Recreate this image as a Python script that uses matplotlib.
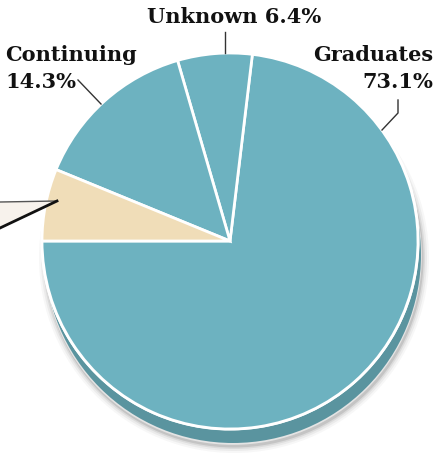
import matplotlib.pyplot as plt
from matplotlib.patches import Circle, Polygon

W, H = 437, 457

labels = ['Graduates', 'Unknown', 'Continuing', 'Other']
values = [73.1, 6.4, 14.3, 6.2]
colors = ['#6db2c0', '#6db2c0', '#6db2c0', '#f0ddb8']

TEAL_DARK = '#5a949f'
FONT = ['DejaVu Serif']


def py(y):
    # pixel row from top -> data y
    return H - y


fig = plt.figure(figsize=(W / 100, H / 100), dpi=100)
ax = fig.add_axes([0, 0, 1, 1])

cx, cy, r = 230, py(241), 188

# soft shadow + extruded side
for k, a in [(7, 0.05), (5, 0.08), (3, 0.12), (1.5, 0.2)]:
    ax.add_patch(Circle((cx + 4, cy - 17), r + k, fc='#6a6a6a', ec='none', alpha=a, zorder=1))
ax.add_patch(Circle((cx + 3, cy - 15), r + 0.8, fc='#e4e4e4', ec='none', zorder=2))
ax.add_patch(Circle((cx + 3, cy - 14), r, fc=TEAL_DARK, ec='none', zorder=3))
ax.add_patch(Circle((cx, cy), r + 1.5, fc='white', ec='none', zorder=4))

wedges, _ = ax.pie(values, colors=colors, startangle=180, counterclock=True,
                   center=(cx, cy), radius=r, frame=True,
                   wedgeprops=dict(edgecolor='white', linewidth=2))
for w in wedges:
    w.set_zorder(5)
ax.set_xlim(0, W)
ax.set_ylim(0, H)
ax.set_aspect('equal')
ax.axis('off')

tkw = dict(family=FONT, fontweight='bold', fontsize=15, color='#111111', zorder=6)
ax.text(234, py(23), f'{labels[1]} {values[1]}%', ha='center', va='baseline', **tkw)
ax.text(5, py(61), labels[2], ha='left', va='baseline', **tkw)
ax.text(5, py(88), f'{values[2]}%', ha='left', va='baseline', **tkw)
ax.text(433, py(61), labels[0], ha='right', va='baseline', **tkw)
ax.text(433, py(88), f'{values[0]}%', ha='right', va='baseline', **tkw)

lkw = dict(color='#333333', lw=1.0, zorder=6)
ax.plot([225, 225], [py(32), py(53)], **lkw)
ax.plot([78, 101], [py(80), py(104)], **lkw)
ax.plot([398, 398, 382], [py(100), py(113), py(130)], **lkw)

# callout for the small beige slice, label sits off the canvas
ax.add_patch(Polygon([(0, py(202)), (57, py(201)), (0, py(228))], closed=True,
                     fc='#f7f2ec', ec='none', zorder=6))
ax.plot([0, 57], [py(202), py(201)], color='#555555', lw=1.0, zorder=7)
ax.plot([0, 57], [py(228), py(201)], color='#111111', lw=2.0, zorder=7)

fig.savefig('out.png', dpi=100)
